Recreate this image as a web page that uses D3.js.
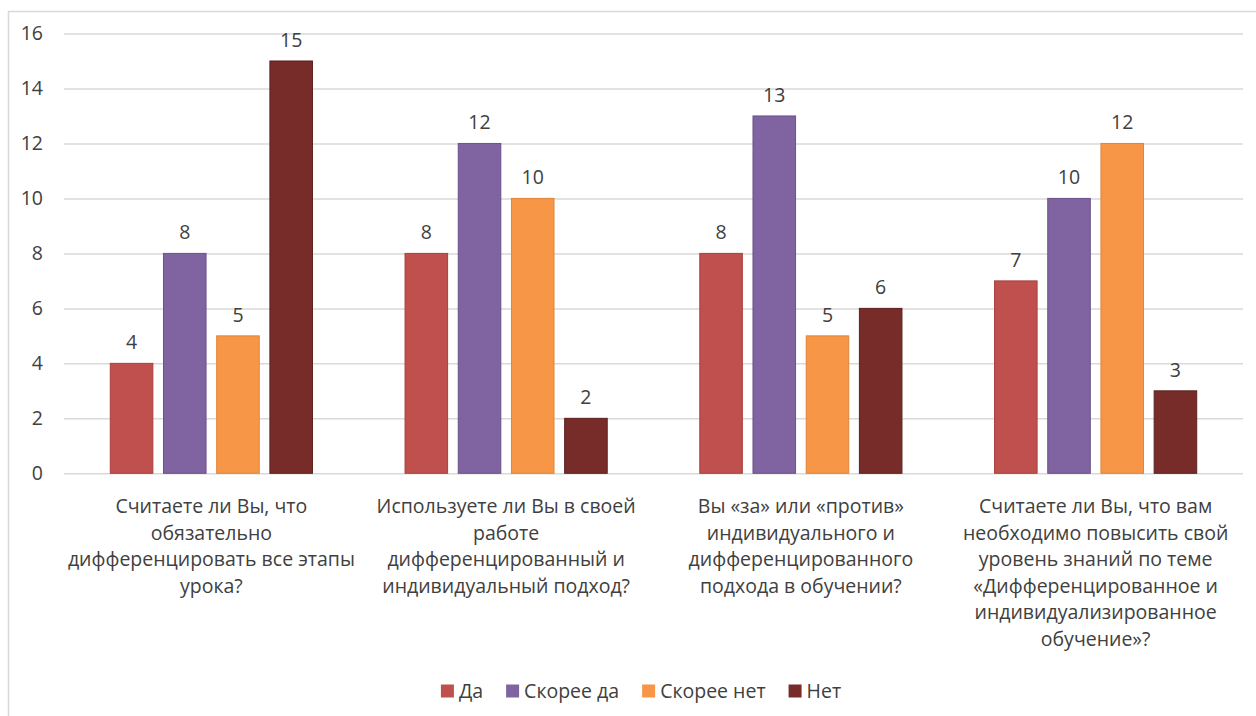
<!DOCTYPE html>
<html>
<head>
<meta charset="utf-8">
<script src="https://cdn.jsdelivr.net/npm/d3@7"></script>
<style>
  html, body { margin: 0; padding: 0; background: #fff; }
  text { font-family: 'Open Sans', 'Noto Sans', sans-serif; fill: #404040; }
</style>
</head>
<body>
<svg id="chart" width="1256" height="716"></svg>
<script>
const categories = [
  ['Считаете ли Вы, что', 'обязательно', 'дифференцировать все этапы', 'урока?'],
  ['Используете ли Вы в своей', 'работе', 'дифференцированный и', 'индивидуальный подход?'],
  ['Вы «за» или «против»', 'индивидуального и', 'дифференцированного', 'подхода в обучении?'],
  ['Считаете ли Вы, что вам', 'необходимо повысить свой', 'уровень знаний по теме', '«Дифференцированное и', 'индивидуализированное', 'обучение»?']
]
const seriesNames = ['Да', 'Скорее да', 'Скорее нет', 'Нет']
const valuesDa = [4, 8, 8, 7]
const valuesSkoreeDa = [8, 12, 13, 10]
const valuesSkoreeNet = [5, 10, 5, 12]
const valuesNet = [15, 2, 6, 3]
const yTicks = [0, 2, 4, 6, 8, 10, 12, 14, 16]

const colors = ['#C0504D', '#8064A2', '#F79646', '#772C2A']
const strokes = ['#A9403D', '#6A5189', '#E08535', '#5E1F1E']
const seriesValues = [valuesDa, valuesSkoreeDa, valuesSkoreeNet, valuesNet]

const MARGIN = { left: 64, right: 13, top: 33.5, bottom: 242.7 }
const W = 1256
const H = 716
const FONT = 19.5

const svg = d3.select('#chart')

// outer frame
svg.append('path')
  .attr('d', `M8.5,716 V11.5 H1256`)
  .attr('fill', 'none')
  .attr('stroke', '#d9d9d9')
  .attr('stroke-width', 1.5)

const x0 = d3.scaleBand()
  .domain(d3.range(categories.length))
  .range([MARGIN.left, W - MARGIN.right])

const x1 = d3.scaleBand()
  .domain(d3.range(seriesNames.length))
  .range([0, x0.bandwidth()])
  .paddingInner(0.2)
  .paddingOuter(0.87)

const y = d3.scaleLinear()
  .domain([0, 16])
  .range([H - MARGIN.bottom, MARGIN.top])

// grid + y axis
const yAxis = d3.axisLeft(y)
  .tickValues(yTicks)
  .tickSize(-(W - MARGIN.left - MARGIN.right))
  .tickPadding(21)

const gy = svg.append('g')
  .attr('transform', `translate(${MARGIN.left},0)`)
  .call(yAxis)
gy.select('.domain').remove()
gy.selectAll('line').attr('stroke', '#d9d9d9').attr('stroke-width', 1.5)
gy.selectAll('text')
  .style('font-size', FONT + 'px')
  .style('fill', '#404040')

// bars
categories.forEach((c, ci) => {
  const g = svg.append('g').attr('transform', `translate(${x0(ci)},0)`)
  seriesValues.forEach((vals, si) => {
    const v = vals[ci]
    g.append('rect')
      .attr('x', x1(si))
      .attr('y', y(v))
      .attr('width', x1.bandwidth())
      .attr('height', y(0) - y(v))
      .attr('fill', colors[si])
      .attr('stroke', strokes[si])
      .attr('stroke-width', 1)
    g.append('text')
      .attr('x', x1(si) + x1.bandwidth() / 2)
      .attr('y', y(v) - 14)
      .attr('text-anchor', 'middle')
      .style('font-size', FONT + 'px')
      .text(v)
  })
  // category label
  const t = svg.append('text')
    .attr('x', x0(ci) + x0.bandwidth() / 2)
    .attr('y', 513)
    .attr('text-anchor', 'middle')
    .style('font-size', FONT + 'px')
  c.forEach((line, li) => {
    t.append('tspan')
      .attr('x', x0(ci) + x0.bandwidth() / 2)
      .attr('dy', li === 0 ? 0 : 26.5)
      .text(line)
  })
})

// legend
const legend = svg.append('g')
let lx = 0
seriesNames.forEach((name, i) => {
  const g = legend.append('g')
  g.append('rect')
    .attr('x', lx)
    .attr('y', -6.5)
    .attr('width', 13)
    .attr('height', 13)
    .attr('fill', colors[i])
  const txt = g.append('text')
    .attr('x', lx + 18)
    .attr('y', 7)
    .style('font-size', FONT + 'px')
    .text(name)
  const w = txt.node().getComputedTextLength()
  lx += 18 + w + 23
})
const legendWidth = lx - 23
legend.attr('transform', `translate(${641 - legendWidth / 2},691)`)
</script>
</body>
</html>
